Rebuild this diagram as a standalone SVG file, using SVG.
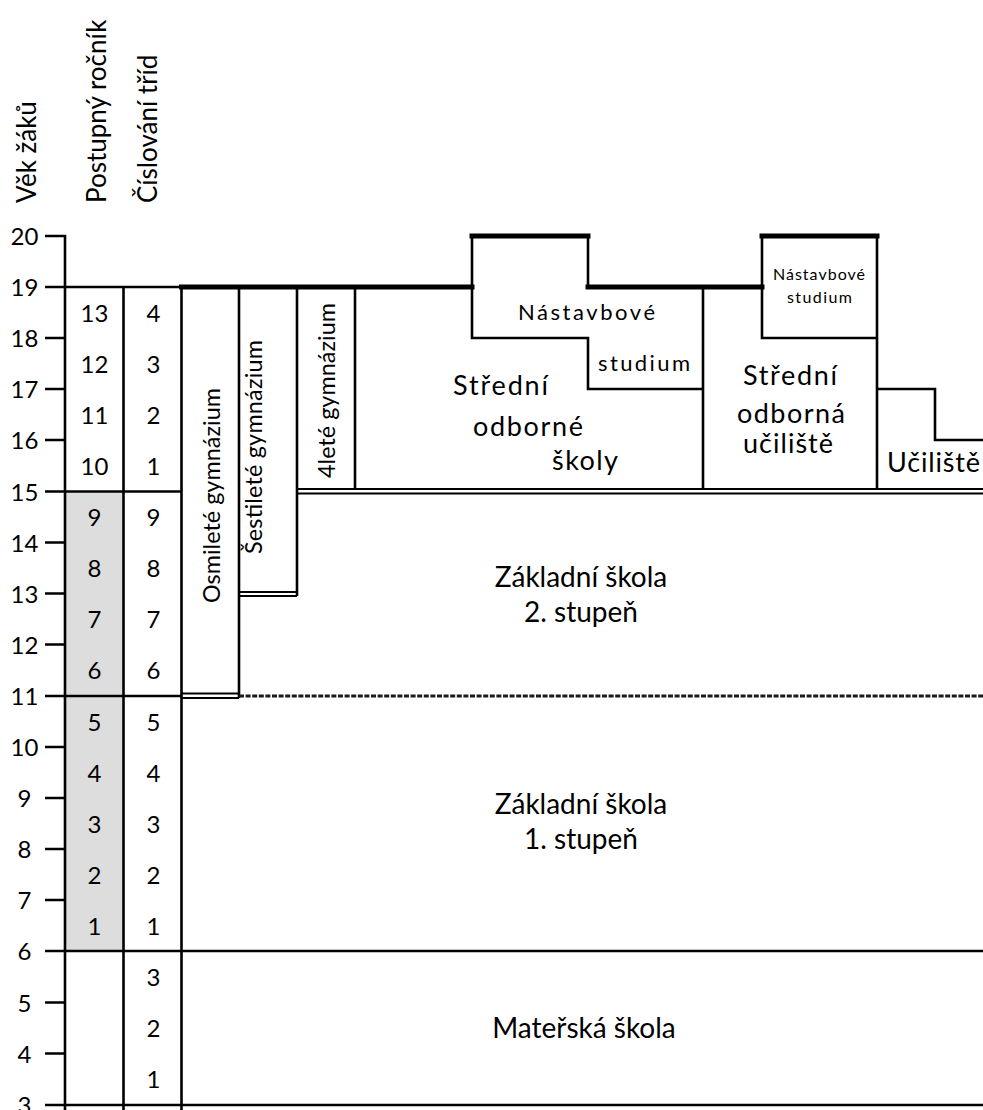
<svg xmlns="http://www.w3.org/2000/svg" width="983" height="1110" viewBox="0 0 983 1110">
  <style>
    text { font-family: Lato, "Open Sans", "Liberation Sans", sans-serif; fill: #000; }
    .ax { font-size: 24px; text-anchor: middle; }
    .num { font-size: 24px; text-anchor: middle; }
    .hdr { font-size: 26px; }
    .gym { font-size: 23.4px; text-anchor: middle; }
    .big { font-size: 27px; }
    .mid { font-size: 28px; text-anchor: middle; }
    .nst { font-size: 22px; text-anchor: middle; }
    .sml { font-size: 16px; text-anchor: middle; }
    .thin { fill: none; stroke: #000; stroke-width: 2.6; }
    .thick { fill: none; stroke: #000; stroke-width: 5; stroke-linecap: square; }
    .dbl { fill: none; stroke: #000; stroke-width: 1.8; }
    .dash { fill: none; stroke: #1a1a1a; stroke-width: 3; stroke-dasharray: 5 1.6; }
  </style>

  <!-- shaded compulsory-school years in the first column -->
  <rect id="shade" x="65" y="491.5" width="58.5" height="459.5" fill="#dddddd"/>

  <!-- column headings -->
  <g id="headers">
    <text class="hdr" transform="translate(36,203) rotate(-90)">Věk žáků</text>
    <text class="hdr" transform="translate(106,203) rotate(-90)">Postupný ročník</text>
    <text class="hdr" transform="translate(157,203) rotate(-90)">Číslování tříd</text>
  </g>

  <!-- age axis -->
  <g id="age-axis">
    <path class="thin" d="M45,236 H65 V1110 M45,338 H65 M45,389 H65 M45,440 H65 M45,542.5 H65 M45,593.5 H65 M45,644.5 H65 M45,747 H65 M45,798 H65 M45,849 H65 M45,900 H65 M45,1002.5 H65 M45,1053.5 H65"/>
    <text class="ax" x="24.5" y="245">20</text>
    <text class="ax" x="24.5" y="296">19</text>
    <text class="ax" x="24.5" y="347">18</text>
    <text class="ax" x="24.5" y="398">17</text>
    <text class="ax" x="24.5" y="449">16</text>
    <text class="ax" x="24.5" y="500.5">15</text>
    <text class="ax" x="24.5" y="551.5">14</text>
    <text class="ax" x="24.5" y="602.5">13</text>
    <text class="ax" x="24.5" y="653.5">12</text>
    <text class="ax" x="24.5" y="705">11</text>
    <text class="ax" x="24.5" y="756">10</text>
    <text class="ax" x="24.5" y="807">9</text>
    <text class="ax" x="24.5" y="858">8</text>
    <text class="ax" x="24.5" y="909">7</text>
    <text class="ax" x="24.5" y="960">6</text>
    <text class="ax" x="24.5" y="1011.5">5</text>
    <text class="ax" x="24.5" y="1062.5">4</text>
    <text class="ax" x="24.5" y="1114">3</text>
  </g>

  <!-- grade columns -->
  <g id="grade-columns">
    <path class="thin" d="M123.5,287 V1110 M181.5,287 V1110 M45,287 H181.5 M45,491.5 H181.5 M45,696 H181.5"/>
    <text class="num" x="94.5" y="321.5">13</text>
    <text class="num" x="94.5" y="372.5">12</text>
    <text class="num" x="94.5" y="423.5">11</text>
    <text class="num" x="94.5" y="474.8">10</text>
    <text class="num" x="94.5" y="526">9</text>
    <text class="num" x="94.5" y="577">8</text>
    <text class="num" x="94.5" y="628">7</text>
    <text class="num" x="94.5" y="679.3">6</text>
    <text class="num" x="94.5" y="730.5">5</text>
    <text class="num" x="94.5" y="781.5">4</text>
    <text class="num" x="94.5" y="832.5">3</text>
    <text class="num" x="94.5" y="883.5">2</text>
    <text class="num" x="94.5" y="934.5">1</text>

    <text class="num" x="153.5" y="321.5">4</text>
    <text class="num" x="153.5" y="372.5">3</text>
    <text class="num" x="153.5" y="423.5">2</text>
    <text class="num" x="153.5" y="474.8">1</text>
    <text class="num" x="153.5" y="526">9</text>
    <text class="num" x="153.5" y="577">8</text>
    <text class="num" x="153.5" y="628">7</text>
    <text class="num" x="153.5" y="679.3">6</text>
    <text class="num" x="153.5" y="730.5">5</text>
    <text class="num" x="153.5" y="781.5">4</text>
    <text class="num" x="153.5" y="832.5">3</text>
    <text class="num" x="153.5" y="883.5">2</text>
    <text class="num" x="153.5" y="934.5">1</text>
    <text class="num" x="153.5" y="985.8">3</text>
    <text class="num" x="153.5" y="1037">2</text>
    <text class="num" x="153.5" y="1088.3">1</text>
  </g>

  <!-- gymnasium streams -->
  <g id="osmilete">
    <path class="thin" d="M239,287 V698"/>
    <path class="dbl" d="M181.5,693.5 H239 M181.5,698 H239"/>
    <text class="gym" transform="translate(220,495.5) rotate(-90)" textLength="215">Osmileté gymnázium</text>
  </g>
  <g id="sestilete">
    <path class="thin" d="M297,287 V596"/>
    <path class="dbl" d="M239,592 H297 M239,596 H297"/>
    <text class="gym" transform="translate(262,447) rotate(-90)" textLength="214">Šestileté gymnázium</text>
  </g>
  <g id="ctyrlete">
    <path class="thin" d="M355,287 V489"/>
    <text class="gym" transform="translate(335,390.5) rotate(-90)" textLength="175">4leté gymnázium</text>
  </g>

  <!-- secondary vocational schools -->
  <g id="sos">
    <path class="thin" d="M472,236 V338 H588 V389 H703 M588,236 V287 M703,287 V489"/>
    <text class="nst" x="586.5" y="320" textLength="137">Nástavbové</text>
    <text class="nst" x="644" y="371" textLength="92">studium</text>
    <text class="big" x="453" y="395" textLength="95">Střední</text>
    <text class="big" x="473" y="436" textLength="110">odborné</text>
    <text class="big" x="552" y="470" textLength="66">školy</text>
  </g>
  <g id="sou">
    <path class="thin" d="M762,236 V338 H877 M877,236 V489"/>
    <text class="sml" x="819" y="280" textLength="92">Nástavbové</text>
    <text class="sml" x="819.5" y="303" textLength="65">studium</text>
    <text class="big" x="743" y="385" textLength="94">Střední</text>
    <text class="big" x="737" y="423" textLength="108">odborná</text>
    <text class="big" x="743" y="453" textLength="90">učiliště</text>
  </g>
  <g id="uciliste">
    <path class="thin" d="M877,389 H935 V440 H983"/>
    <text class="big" x="887" y="472" textLength="93">Učiliště</text>
  </g>

  <!-- upper boundaries of the streams -->
  <g id="connectors">
    <path class="thick" d="M181.5,287 H472 M472,236 H588 M588,287 H762 M762,236 H877"/>
    <path class="dbl" d="M297,489 H983 M297,493.5 H983"/>
    <path class="dash" d="M239,696 H983"/>
    <path class="thin" d="M45,951 H983 M45,1105 H983"/>
  </g>

  <!-- primary and pre-school -->
  <g id="zs2">
    <text class="mid" x="581" y="587">Základní škola</text>
    <text class="mid" x="581" y="622">2. stupeň</text>
  </g>
  <g id="zs1">
    <text class="mid" x="581" y="814">Základní škola</text>
    <text class="mid" x="581" y="849">1. stupeň</text>
  </g>
  <g id="ms">
    <text class="mid" x="584" y="1038">Mateřská škola</text>
  </g>
</svg>
